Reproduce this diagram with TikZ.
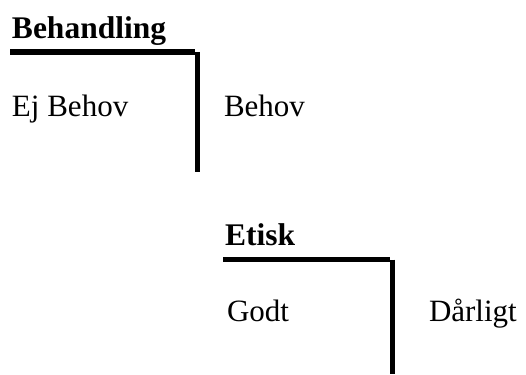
\documentclass[tikz,border=0pt]{standalone}
\usepackage{fontspec}
\setmainfont{Liberation Serif}
\begin{document}
\begin{tikzpicture}[x=1pt,y=-1pt,
  label/.style={anchor=base west,inner sep=0pt,outer sep=0pt,font=\fontsize{31}{36}\selectfont},
  head/.style={anchor=base west,inner sep=0pt,outer sep=0pt,font=\fontsize{31.5}{38}\selectfont\bfseries},
  bar/.style={line width=5.5pt,line cap=butt}]
\useasboundingbox (0,0) rectangle (526,374);

% upper block: Behandling
\node[head]  (beh)   at (12,38.5)  {Behandling};
\node[label] (ejb)   at (12,116.5) {Ej Behov};
\node[label] (bhv)   at (224,116.5) {Behov};
\coordinate (t1) at (10,52);
\coordinate (t2) at (195,52);
\coordinate (t3) at (197.5,52);
\coordinate (t4) at (197.5,172);
\draw[bar] (t1) -- (t2);
\draw[bar] (t3) -- (t4);

% lower block: Etisk
\node[head]  (eti)   at (225,245)  {Etisk};
\node[label] (godt)  at (227,321)  {Godt};
\node[label] (darl)  at (429,321)  {Dårligt};
\coordinate (b1) at (223,259.5);
\coordinate (b2) at (390,259.5);
\coordinate (b3) at (392.5,259.5);
\coordinate (b4) at (392.5,374);
\draw[bar] (b1) -- (b2);
\draw[bar] (b3) -- (b4);
\end{tikzpicture}
\end{document}
